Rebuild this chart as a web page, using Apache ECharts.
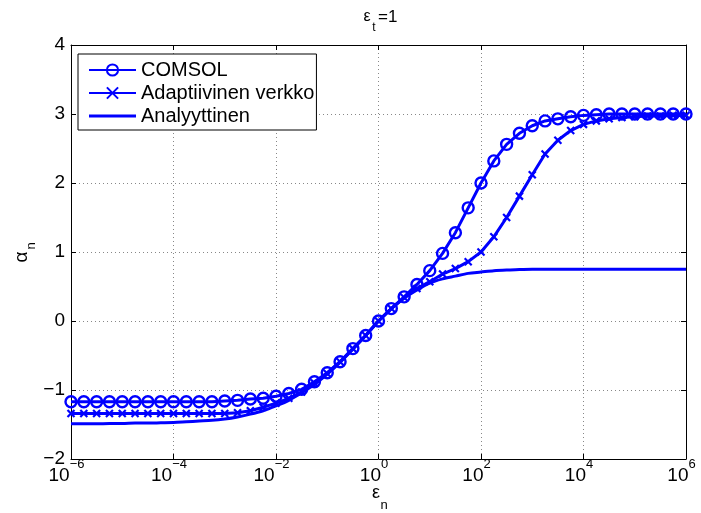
<!DOCTYPE html>
<html>
<head>
<meta charset="utf-8">
<script src="https://cdn.jsdelivr.net/npm/echarts@6/dist/echarts.min.js"></script>
<style>
html,body{margin:0;padding:0;background:#fff;}
#chart{width:701px;height:513px;}
</style>
</head>
<body>
<div id="chart"></div>
<script>
// log10(epsilon_n) sample positions (0.25 decade steps)
var logEpsN = [-6,-5.75,-5.5,-5.25,-5,-4.75,-4.5,-4.25,-4,-3.75,-3.5,-3.25,-3,-2.75,-2.5,-2.25,-2,-1.75,-1.5,-1.25,-1,-0.75,-0.5,-0.25,0,0.25,0.5,0.75,1,1.25,1.5,1.75,2,2.25,2.5,2.75,3,3.25,3.5,3.75,4,4.25,4.5,4.75,5,5.25,5.5,5.75,6];

var comsolAlpha = [-1.17,-1.17,-1.17,-1.17,-1.17,-1.17,-1.17,-1.17,-1.17,-1.17,-1.17,-1.17,-1.16,-1.15,-1.13,-1.12,-1.09,-1.05,-0.99,-0.88,-0.75,-0.59,-0.40,-0.21,0,0.18,0.35,0.53,0.73,0.98,1.28,1.64,2.00,2.32,2.56,2.72,2.83,2.90,2.93,2.96,2.98,2.99,3.00,3.00,3.00,3.00,3.00,3.00,3.00];

var adaptiveAlpha = [-1.34,-1.34,-1.34,-1.34,-1.34,-1.34,-1.34,-1.34,-1.34,-1.34,-1.34,-1.34,-1.34,-1.33,-1.30,-1.25,-1.19,-1.12,-1.03,-0.90,-0.76,-0.59,-0.40,-0.21,0,0.18,0.34,0.47,0.57,0.68,0.76,0.86,1.00,1.22,1.50,1.81,2.12,2.42,2.62,2.76,2.85,2.90,2.93,2.95,2.96,2.97,2.97,2.98,2.98];

var analyticAlpha = [-1.49,-1.49,-1.49,-1.485,-1.485,-1.48,-1.48,-1.475,-1.47,-1.46,-1.45,-1.44,-1.42,-1.39,-1.35,-1.30,-1.23,-1.15,-1.04,-0.92,-0.77,-0.60,-0.41,-0.21,0,0.18,0.33,0.45,0.55,0.61,0.65,0.69,0.71,0.73,0.74,0.745,0.75,0.75,0.75,0.75,0.75,0.75,0.75,0.75,0.75,0.75,0.75,0.75,0.75];

var xTickExponents = [-6,-4,-2,0,2,4,6];
var yTicks = [-2,-1,0,1,2,3,4];
var seriesNames = ['COMSOL','Adaptiivinen verkko','Analyyttinen'];

function pairs(ys){ return logEpsN.map(function(x,i){ return [x, ys[i]]; }); }
function minus(v){ return v < 0 ? '\u2212' + (-v) : String(v); }

var FONT = 'Liberation Sans, Arial, sans-serif';
var BLUE = '#0000ff';

var chart = echarts.init(document.getElementById('chart'), null, {renderer:'canvas'});

var gridLine = {show:true, lineStyle:{color:'#888', type:[1,3], width:1}};
var axisLine = {show:true, onZero:false, lineStyle:{color:'#000', width:1}};
var tick = {show:true, inside:true, length:5, lineStyle:{color:'#000', width:1}};

chart.setOption({
  animation:false,
  backgroundColor:'#fff',
  grid:{left:71, right:15, top:45, bottom:54, containLabel:false},
  xAxis:[{
    type:'value', min:-6, max:6, interval:2, position:'bottom',
    axisLine:axisLine, axisTick:tick, splitLine:gridLine,
    axisLabel:{
      margin:-1, padding:[0,9,0,0],
      formatter:function(v){ return xTickExponents.indexOf(v) >= 0 ? '{b|10}{s|' + minus(v) + '}' : ''; },
      rich:{
        b:{fontSize:19, fontFamily:FONT, color:'#000', lineHeight:27, verticalAlign:'bottom'},
        s:{fontSize:13, fontFamily:FONT, color:'#000', lineHeight:27, verticalAlign:'top'}
      }
    }
  },{
    type:'value', min:-6, max:6, interval:2, position:'top',
    axisLine:axisLine, axisTick:tick, splitLine:{show:false}, axisLabel:{show:false}
  }],
  yAxis:[{
    type:'value', min:-2, max:4, interval:1, position:'left',
    axisLine:axisLine, axisTick:tick, splitLine:gridLine,
    axisLabel:{margin:6, fontSize:19, fontFamily:FONT, color:'#000',
      formatter:function(v){ return yTicks.indexOf(v) >= 0 ? minus(v) : ''; }}
  },{
    type:'value', min:-2, max:4, interval:1, position:'right',
    axisLine:axisLine, axisTick:tick, splitLine:{show:false}, axisLabel:{show:false}
  }],
  legend:{
    orient:'vertical', left:78, top:54,
    padding:[6,2,4,10], itemWidth:47, itemHeight:14, itemGap:3,
    borderColor:'#000', borderWidth:1, backgroundColor:'#fff',
    selectedMode:false,
    textStyle:{fontSize:20, fontFamily:FONT, color:'#000', lineHeight:20},
    data:[
      {name:seriesNames[0]},
      {name:seriesNames[1]},
      {name:seriesNames[2], icon:'path://M0 0M0 5.5L47 5.5L47 8.5L0 8.5ZM47 14'}
    ]
  },
  series:[{
    name:seriesNames[2], type:'line', data:pairs(analyticAlpha),
    symbol:'none', showSymbol:false, smooth:0.3, z:2,
    lineStyle:{color:BLUE, width:3}, itemStyle:{color:BLUE}
  },{
    name:seriesNames[1], type:'line', data:pairs(adaptiveAlpha),
    symbol:'path://M0 0L10 10M10 0L0 10', symbolSize:7, showAllSymbol:true, z:3,
    lineStyle:{color:BLUE, width:3},
    itemStyle:{color:'rgba(0,0,0,0)', borderColor:BLUE, borderWidth:2.2}
  },{
    name:seriesNames[0], type:'line', data:pairs(comsolAlpha),
    symbol:'circle', symbolSize:11, showAllSymbol:true, z:4,
    lineStyle:{color:BLUE, width:3},
    itemStyle:{color:'rgba(0,0,0,0)', borderColor:BLUE, borderWidth:2.4}
  }],
  graphic:[
    {type:'text', x:367, y:17, style:{text:'\u03b5', font:'16px ' + FONT, fill:'#000', textAlign:'center', textVerticalAlign:'middle'}},
    {type:'text', x:374, y:28, style:{text:'t', font:'12px ' + FONT, fill:'#000', textAlign:'center', textVerticalAlign:'middle'}},
    {type:'text', x:378, y:17, style:{text:'=1', font:'17px ' + FONT, fill:'#000', textAlign:'left', textVerticalAlign:'middle'}},
    {type:'text', x:376, y:493, style:{text:'\u03b5', font:'18px ' + FONT, fill:'#000', textAlign:'center', textVerticalAlign:'middle'}},
    {type:'text', x:384, y:505, style:{text:'n', font:'13px ' + FONT, fill:'#000', textAlign:'center', textVerticalAlign:'middle'}},
    {type:'text', x:22, y:257, rotation:Math.PI/2, style:{text:'\u03b1', font:'19px ' + FONT, fill:'#000', textAlign:'center', textVerticalAlign:'middle'}},
    {type:'text', x:31, y:246, rotation:Math.PI/2, style:{text:'n', font:'13px ' + FONT, fill:'#000', textAlign:'center', textVerticalAlign:'middle'}}
  ]
});
</script>
</body>
</html>
